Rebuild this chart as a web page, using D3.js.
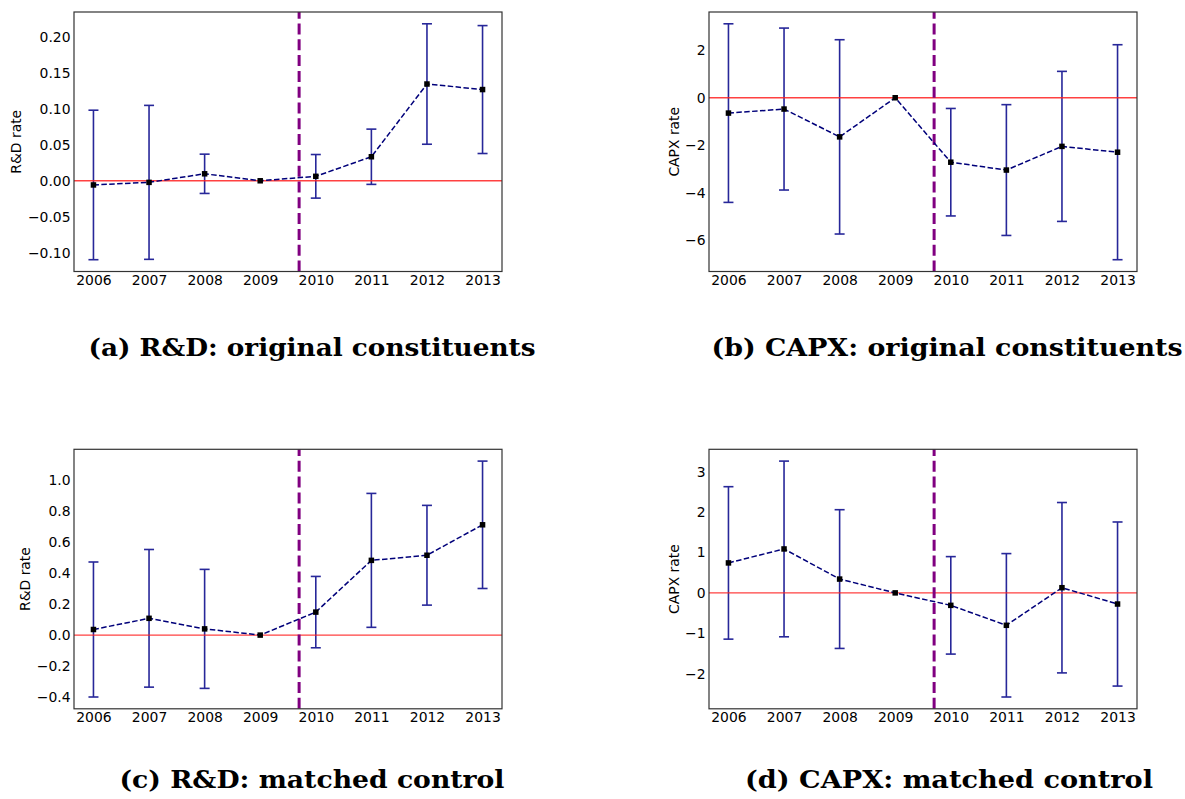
<!DOCTYPE html>
<html><head><meta charset="utf-8">
<script src="https://cdn.jsdelivr.net/npm/d3@7"></script>
<style>body{margin:0;background:#fff}</style>
</head><body><svg id="c" width="1185" height="799"></svg>
<script>
// ---- data ----
const years = [2006, 2007, 2008, 2009, 2010, 2011, 2012, 2013];
const cutoffYear = 2009.7;

const rdOrigEst = [-0.0058, -0.0022, 0.0097, 0.0, 0.0062, 0.0334, 0.1345, 0.1268];
const rdOrigErr = [0.1039, 0.1070, 0.0273, 0.0, 0.0303, 0.0384, 0.0837, 0.0889];
const rdOrigTicks = [-0.10, -0.05, 0.00, 0.05, 0.10, 0.15, 0.20];

const capxOrigEst = [-0.645, -0.475, -1.645, 0.0, -2.71, -3.04, -2.045, -2.29];
const capxOrigErr = [3.755, 3.405, 4.085, 0.0, 2.26, 2.75, 3.155, 4.52];
const capxOrigTicks = [-6, -4, -2, 0, 2];

const rdMatchEst = [0.036, 0.108, 0.040, 0.0, 0.148, 0.481, 0.514, 0.710];
const rdMatchErr = [0.4345, 0.443, 0.383, 0.0, 0.2296, 0.431, 0.321, 0.410];
const rdMatchTicks = [-0.4, -0.2, 0.0, 0.2, 0.4, 0.6, 0.8, 1.0];

const capxMatchEst = [0.742, 1.088, 0.342, 0.0, -0.309, -0.803, 0.128, -0.276];
const capxMatchErr = [1.888, 2.176, 1.718, 0.0, 1.207, 1.776, 2.11, 2.032];
const capxMatchTicks = [-2, -1, 0, 1, 2, 3];

// ---- layout ----
const svg = d3.select("#c");
const PW = 428, PH = 259.5;
const panels = [
  {est: rdOrigEst, err: rdOrigErr, ticks: rdOrigTicks, fmt: ".2f", ylabel: "R&D rate",
   caption: "(a) R&D: original constituents", left: 74, top: 12, capX: 312, capY: 356, capW: 447},
  {est: capxOrigEst, err: capxOrigErr, ticks: capxOrigTicks, fmt: "d", ylabel: "CAPX rate",
   caption: "(b) CAPX: original constituents", left: 709, top: 12, capX: 947, capY: 356, capW: 471},
  {est: rdMatchEst, err: rdMatchErr, ticks: rdMatchTicks, fmt: ".1f", ylabel: "R&D rate",
   caption: "(c) R&D: matched control", left: 74, top: 449.3, capX: 312, capY: 788, capW: 385},
  {est: capxMatchEst, err: capxMatchErr, ticks: capxMatchTicks, fmt: "d", ylabel: "CAPX rate",
   caption: "(d) CAPX: matched control", left: 709, top: 449.3, capX: 949, capY: 788, capW: 408}
];

const xr = d3.extent(years), xpad = (xr[1] - xr[0]) * 0.05;

panels.forEach(p => {
  const g = svg.append("g").attr("transform", `translate(${p.left},${p.top})`);
  const x = d3.scaleLinear().domain([xr[0] - xpad, xr[1] + xpad]).range([0, PW]);
  const lo = d3.min(p.est, (d, i) => d - p.err[i]);
  const hi = d3.max(p.est, (d, i) => d + p.err[i]);
  const pad = (hi - lo) * 0.05;
  const y = d3.scaleLinear().domain([lo - pad, hi + pad]).range([PH, 0]);

  // error bars
  const eb = g.append("g").attr("stroke", "#10108f").attr("stroke-width", 1.6).attr("opacity", 0.9);
  years.forEach((yr, i) => {
    if (p.err[i] === 0) return;
    const cx = x(yr), y1 = y(p.est[i] - p.err[i]), y2 = y(p.est[i] + p.err[i]);
    eb.append("line").attr("x1", cx).attr("x2", cx).attr("y1", y1).attr("y2", y2);
    eb.append("line").attr("x1", cx - 5).attr("x2", cx + 5).attr("y1", y1).attr("y2", y1);
    eb.append("line").attr("x1", cx - 5).attr("x2", cx + 5).attr("y1", y2).attr("y2", y2);
  });

  // zero line
  g.append("line").attr("x1", 0).attr("x2", PW).attr("y1", y(0)).attr("y2", y(0))
    .attr("stroke", "#ff2020").attr("stroke-width", 1.4).attr("opacity", 0.85);

  // cutoff line
  g.append("line").attr("x1", x(cutoffYear)).attr("x2", x(cutoffYear)).attr("y1", PH).attr("y2", 0)
    .attr("stroke", "#800080").attr("stroke-width", 3).attr("stroke-dasharray", "11,4.8");

  // estimate line
  g.append("path").datum(years.map((yr, i) => [yr, p.est[i]]))
    .attr("fill", "none").attr("stroke", "#00007a").attr("stroke-width", 1.5)
    .attr("stroke-dasharray", "5.5,2.4")
    .attr("d", d3.line().x(d => x(d[0])).y(d => y(d[1])));

  // markers
  g.selectAll("rect.m").data(years.map((yr, i) => [yr, p.est[i]])).enter().append("rect")
    .attr("x", d => x(d[0]) - 2.75).attr("y", d => y(d[1]) - 2.75)
    .attr("width", 5.5).attr("height", 5.5).attr("fill", "#000");

  // axes
  const xa = g.append("g").attr("transform", `translate(0,${PH})`)
    .call(d3.axisBottom(x).tickValues(years).tickFormat(d3.format("d")).tickSize(0).tickPadding(3.8));
  const ya = g.append("g")
    .call(d3.axisLeft(y).tickValues(p.ticks).tickFormat(d3.format(p.fmt)).tickSize(0).tickPadding(3.5));
  [xa, ya].forEach(a => {
    a.select(".domain").remove();
    a.selectAll("text").attr("fill", "#000").style("font-family", "DejaVu Sans")
      .style("font-size", "13.9px");
  });

  // frame
  g.append("rect").attr("x", 0).attr("y", 0).attr("width", PW).attr("height", PH)
    .attr("fill", "none").attr("stroke", "#333").attr("stroke-width", 1.2);

  // y label
  let minLeft = 0;
  ya.selectAll("text").each(function () {
    const b = this.getBBox();
    minLeft = Math.min(minLeft, b.x);
  });
  const lx = minLeft - 3.5 - 8;
  g.append("text").attr("transform", `translate(${lx},${PH / 2}) rotate(-90)`)
    .attr("text-anchor", "middle").attr("dominant-baseline", "central")
    .style("font-family", "DejaVu Sans").style("font-size", "13.9px").attr("fill", "#000")
    .text(p.ylabel);

  // caption
  svg.append("text").attr("x", p.capX).attr("y", p.capY).attr("text-anchor", "middle")
    .style("font-family", "DejaVu Serif").style("font-weight", "bold").style("font-size", "24px")
    .attr("textLength", p.capW).attr("lengthAdjust", "spacingAndGlyphs")
    .attr("fill", "#000").text(p.caption);
});
</script></body></html>
